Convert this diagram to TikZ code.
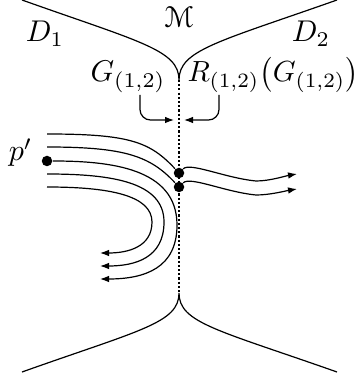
\documentclass[tikz,border=0pt]{standalone}
\usepackage{amsmath}
\usepackage[mathcal]{eucal}
\usetikzlibrary{arrows.meta, positioning}

\begin{document}
\begin{tikzpicture}[
  x=0.3333pt, y=-0.3333pt,
  arr/.style={-{Latex[length=3pt, width=2.2pt]}},
  bent/.style={arr, rounded corners=3.5pt},
  dot/.style={circle, fill=black, inner sep=0pt, minimum size=3.5pt},
  lbl/.style={inner sep=0pt, anchor=base},
  seam/.style={dash pattern=on 0.7pt off 0.7pt}
]
\useasboundingbox (0,0) rectangle (358,376);

% the two domains and the interface
\coordinate (cusptop) at (179,80);
\coordinate (cuspbot) at (179,293);
\draw (22,0) .. controls (140,42) and (179,50) .. (cusptop)
      .. controls (179,50) and (218,42) .. (337,0);
\draw (22,372) .. controls (140,330) and (179,323) .. (cuspbot)
      .. controls (179,323) and (218,330) .. (337,372);
\draw[seam] (cusptop) -- (cuspbot);

\node[lbl] (M)  at (179,28) {$\mathcal{M}$};
\node[lbl] (D1) at (45,42)  {$D_1$};
\node[lbl] (D2) at (311,42) {$D_2$};
\node[lbl] (G)  at (128,82) {$G_{(1,2)}$};
\node[lbl, anchor=base west, scale=0.97] (RG) at (187,82) {$R_{(1,2)}\bigl(G_{(1,2)}\bigr)$};

\coordinate (ga) at (140,95);
\coordinate (gb) at (174,120);
\coordinate (ra) at (219,95);
\coordinate (rb) at (184,120);
\draw[bent] (ga) |- (gb);
\draw[bent] (ra) |- (rb);

% geodesics
\node[dot] (p)  at (47,161)  {};
\node[lbl, anchor=base east] (plab) at (33,161) {$p'$};
\node[dot] (q1) at (179,173) {};
\node[dot] (q2) at (179,187) {};

\coordinate (s1) at (47,134);
\coordinate (s2) at (47,147);
\coordinate (s4) at (47,174);
\coordinate (s5) at (47,187);
\coordinate (e1) at (297,174);
\coordinate (e2) at (297,189);
\coordinate (e3) at (100,279);
\coordinate (e4) at (100,266);
\coordinate (e5) at (100,253);

\draw (s1) .. controls (130,134) and (150,142) .. (q1);
\draw (s2) .. controls (125,147) and (150,156) .. (q2);
\draw[arr] (q1) .. controls (190,162) and (225,178) .. (256,181)
           .. controls (270,181) and (285,176) .. (e1);
\draw[arr] (q2) .. controls (190,176) and (225,192) .. (256,195)
           .. controls (270,195) and (285,191) .. (e2);

\draw[arr] (p) .. controls (110,161) and (177,168) .. (177,225)
           .. controls (177,268) and (145,279) .. (e3);
\draw[arr] (s4) .. controls (112,174) and (164,182) .. (164,222)
           .. controls (164,258) and (135,266) .. (e4);
\draw[arr] (s5) .. controls (108,187) and (152,195) .. (152,222)
           .. controls (152,247) and (128,253) .. (e5);
\end{tikzpicture}
\end{document}
